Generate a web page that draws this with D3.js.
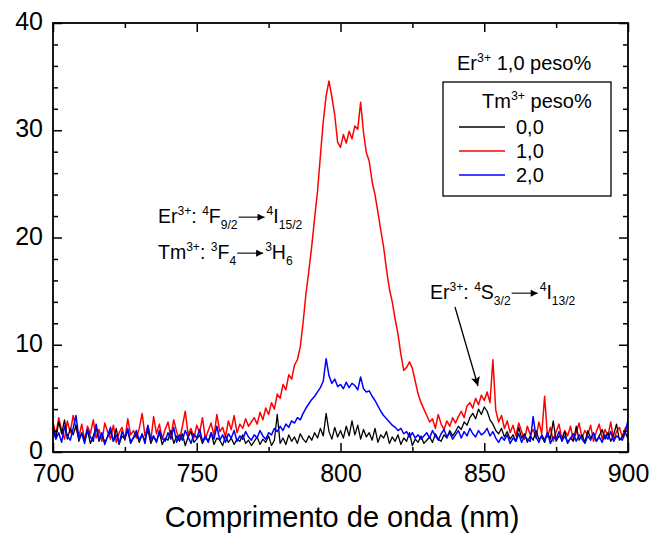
<!DOCTYPE html>
<html><head><meta charset="utf-8">
<script src="https://cdn.jsdelivr.net/npm/d3@7"></script>
<style>body{margin:0;background:#fff} text{font-family:"Liberation Sans",Arial,sans-serif;fill:#000}</style>
</head><body><svg id="c" width="655" height="535"></svg>
<script>
// wavelength grid (nm), sampled every 1 nm
const wavelength = d3.range(700, 901, 1);

// Er 1,0 / Tm 1,0 (red)
const red = [
2.8,1.6,3.2,2.0,1.2,2.9,1.8,3.4,2.2,1.4,
2.6,1.1,2.4,1.7,3.0,1.3,2.1,1.0,2.7,1.9,
1.2,2.5,0.9,1.8,2.3,1.1,3.1,1.6,2.0,1.3,
2.2,3.6,1.5,2.4,1.0,3.3,1.7,2.6,1.2,2.1,
2.8,1.4,3.0,1.9,1.1,2.4,3.8,1.6,2.2,1.3,
2.5,1.8,3.2,1.2,2.0,2.7,1.5,3.5,1.9,2.3,
1.4,2.9,2.1,3.4,1.8,2.6,2.2,3.1,2.4,2.8,
3.2,2.6,3.7,3.0,4.1,3.5,4.6,4.0,5.4,5.0,
6.3,5.8,7.2,6.8,8.1,8.6,9.8,12.1,14.8,16.9,
19.2,21.8,24.3,27.6,30.8,33.2,34.6,33.1,31.4,28.9,
28.4,29.6,28.8,29.9,29.2,30.4,30.1,32.6,29.8,27.9,
27.1,25.2,24.0,22.4,20.7,19.1,17.0,15.2,14.0,12.4,
11.0,9.1,7.6,7.9,8.4,7.8,6.6,5.4,4.6,4.0,
3.4,2.8,3.1,2.2,3.5,2.6,2.1,2.9,2.4,3.2,
2.7,3.3,3.8,3.2,4.3,4.6,4.1,5.0,4.4,5.3,
4.8,5.6,4.6,8.6,3.9,2.8,3.4,2.2,2.9,1.8,
2.5,1.5,2.7,1.9,1.2,2.4,1.6,2.1,1.3,2.8,
1.7,5.2,1.4,2.3,1.0,1.9,2.6,1.2,2.0,1.5,
2.4,1.1,1.8,2.7,1.3,2.0,1.6,2.5,1.0,1.9,
2.6,1.2,2.1,1.5,2.8,1.1,1.9,2.3,1.4,2.2,
2.6];

// Tm 0,0 (black)
const black = [
2.4,1.3,2.8,1.7,3.0,1.2,2.2,1.6,2.5,1.0,
1.8,1.1,2.0,0.8,1.5,2.3,1.0,1.7,0.9,1.4,
1.9,1.0,2.2,0.7,1.5,1.2,2.0,0.8,1.3,1.7,
0.9,1.6,1.1,2.1,0.8,1.4,1.0,1.8,0.7,1.3,
1.1,2.0,0.8,1.5,1.0,1.7,0.6,1.4,1.9,0.9,
1.2,1.6,0.8,1.4,1.0,1.8,0.7,1.3,1.1,0.6,
1.5,0.9,1.3,0.7,1.2,1.0,1.6,0.8,1.1,0.6,
1.0,1.4,0.7,1.2,0.9,1.5,0.6,1.1,3.5,0.8,
1.3,0.7,1.6,1.0,1.4,0.8,1.7,1.2,0.9,1.5,
1.1,1.8,1.3,2.2,1.5,3.6,1.9,1.2,2.3,1.4,
2.0,1.3,2.4,1.5,2.9,1.6,2.5,1.2,2.1,1.4,
1.8,1.1,2.2,0.9,1.6,1.3,1.9,0.8,1.4,1.0,
1.6,0.7,1.3,1.0,1.8,0.6,1.2,0.9,1.5,0.8,
1.1,1.4,0.9,1.7,1.2,1.0,1.6,1.3,2.0,1.5,
1.9,2.4,2.1,2.8,2.5,3.2,3.6,3.1,4.0,3.5,
4.2,3.8,3.0,2.6,2.0,1.7,2.2,1.4,1.9,1.2,
1.6,1.0,2.3,1.3,1.7,0.9,1.5,1.1,2.0,1.2,
1.4,0.9,1.8,1.2,2.9,1.0,1.5,1.2,1.9,0.8,
1.3,1.0,2.4,1.1,1.6,0.9,2.0,1.3,1.7,1.0,
1.5,2.1,1.2,1.8,1.0,1.6,2.6,1.1,1.4,1.9,
1.2];

// Tm 2,0 (blue)
const blue = [
2.0,1.2,1.8,0.9,2.4,1.5,1.1,2.2,3.4,1.3,
1.7,0.8,2.1,1.4,1.0,2.6,1.2,1.8,0.7,1.5,
2.3,1.0,1.6,0.8,1.9,1.3,2.2,0.9,1.4,2.0,
1.1,1.7,0.8,2.5,1.2,1.5,0.9,2.0,1.3,1.0,
1.8,1.2,2.3,0.9,1.6,1.1,2.0,1.4,0.8,1.7,
1.3,2.1,1.0,1.5,0.9,1.8,1.2,2.4,1.1,1.6,
0.9,1.7,1.3,2.0,1.0,1.5,1.2,1.9,1.4,1.1,
1.6,1.3,2.0,1.5,1.2,1.8,1.6,2.2,1.9,2.4,
2.0,2.6,2.3,2.9,2.7,3.2,3.0,3.6,4.1,4.5,
4.9,5.2,5.6,6.0,6.6,8.7,7.1,6.4,6.8,6.1,
6.3,5.9,6.5,6.0,6.4,6.2,5.8,7.0,5.9,5.6,
5.7,5.2,4.8,4.3,3.8,3.4,3.1,2.8,2.5,2.3,
2.0,2.2,1.7,1.9,1.4,1.8,1.3,1.6,1.2,1.5,
1.8,1.3,2.0,1.5,1.1,1.7,2.1,1.4,1.8,1.2,
1.6,2.0,1.3,1.9,1.5,2.2,1.7,1.4,2.0,1.6,
1.8,2.2,1.5,1.9,1.3,0.9,1.4,1.1,1.6,0.8,
1.3,1.0,1.7,0.9,1.5,1.2,1.0,3.3,1.4,0.9,
1.6,1.1,1.8,0.8,1.4,1.2,1.9,1.0,1.5,0.9,
1.3,1.7,1.0,1.6,1.2,0.8,1.5,1.1,1.8,1.0,
1.4,0.9,1.6,1.2,1.9,1.0,1.5,1.3,1.1,1.7,
3.0];

const xTicks = [700, 750, 800, 850, 900];
const xMinor = [725, 775, 825, 875];
const yTicks = [0, 10, 20, 30, 40];
const yMinor = [2,4,6,8,12,14,16,18,22,24,26,28,32,34,36,38];
const legendNames = ["0,0", "1,0", "2,0"];
const legendColors = ["#000000", "#ff0000", "#0000ff"];

const W = 655, H = 535;
const m = {l: 53, r: 27, t: 23, b: 83};
const svg = d3.select("#c");
const x = d3.scaleLinear().domain([700, 900]).range([m.l, W - m.r]);
const y = d3.scaleLinear().domain([0, 40]).range([H - m.b, m.t]);

const defs = svg.append("defs");
defs.append("clipPath").attr("id","clip")
  .append("rect").attr("x", m.l).attr("y", m.t).attr("width", W-m.l-m.r).attr("height", H-m.t-m.b);
defs.append("marker").attr("id","ah").attr("viewBox","0 0 10 10").attr("refX",10).attr("refY",5)
  .attr("markerWidth",9).attr("markerHeight",7).attr("markerUnits","userSpaceOnUse").attr("orient","auto")
  .append("path").attr("d","M0,0L10,5L0,10Z").attr("fill","#000");
defs.append("marker").attr("id","ah2").attr("viewBox","0 0 10 10").attr("refX",10).attr("refY",5)
  .attr("markerWidth",12).attr("markerHeight",9).attr("markerUnits","userSpaceOnUse").attr("orient","auto")
  .append("path").attr("d","M0,0L10,5L0,10L2,5Z").attr("fill","#000");

const line = d3.line().x((d,i) => x(wavelength[i])).y(d => y(d));
const plot = svg.append("g").attr("clip-path","url(#clip)");
[[red,"#ff0000",1.5],[black,"#000000",1.3],[blue,"#0000ff",1.5]].forEach(([data,c,w]) => {
  plot.append("path").datum(data).attr("d", line).attr("fill","none").attr("stroke",c).attr("stroke-width",w)
    .attr("stroke-linejoin","round");
});

// axes
function styleAxis(g, fs) {
  g.select(".domain").remove();
  g.selectAll("line").attr("stroke","#000").attr("stroke-width",1.5);
  g.selectAll("text").attr("font-size", fs).attr("font-family","Liberation Sans, Arial, sans-serif").attr("fill","#000");
}
const gx = svg.append("g").attr("transform",`translate(0,${H-m.b})`)
  .call(d3.axisBottom(x).tickValues(xTicks).tickSize(-9).tickPadding(12).tickFormat(d3.format("d")));
styleAxis(gx, 25);
svg.append("g").attr("transform",`translate(0,${H-m.b})`)
  .call(d3.axisBottom(x).tickValues(xMinor).tickSize(-5).tickFormat("")).call(g => styleAxis(g, 0));
const gy = svg.append("g").attr("transform",`translate(${m.l},0)`)
  .call(d3.axisLeft(y).tickValues(yTicks).tickSize(-9).tickPadding(10).tickFormat(d3.format("d")));
styleAxis(gy, 25);
gy.selectAll("text").attr("dy", "0.26em");
svg.append("g").attr("transform",`translate(${m.l},0)`)
  .call(d3.axisLeft(y).tickValues(yMinor).tickSize(-5).tickFormat("")).call(g => styleAxis(g, 0));
// mirrored ticks
svg.append("g").attr("transform",`translate(${W-m.r},0)`)
  .call(d3.axisRight(y).tickValues(yTicks).tickSize(-9).tickFormat("")).call(g => styleAxis(g, 0));
svg.append("g").attr("transform",`translate(${W-m.r},0)`)
  .call(d3.axisRight(y).tickValues(yMinor).tickSize(-5).tickFormat("")).call(g => styleAxis(g, 0));
svg.append("g").attr("transform",`translate(0,${m.t})`)
  .call(d3.axisTop(x).tickValues(xTicks).tickSize(-9).tickFormat("")).call(g => styleAxis(g, 0));
svg.append("g").attr("transform",`translate(0,${m.t})`)
  .call(d3.axisTop(x).tickValues(xMinor).tickSize(-5).tickFormat("")).call(g => styleAxis(g, 0));

// frame
svg.append("rect").attr("x", m.l).attr("y", m.t).attr("width", W-m.l-m.r).attr("height", H-m.t-m.b)
  .attr("fill","none").attr("stroke","#000").attr("stroke-width",1.8);

// axis title
svg.append("text").attr("x", 342).attr("y", 527).attr("text-anchor","middle")
  .attr("font-size", 29).text("Comprimento de onda (nm)");

// rich text helper
function rich(x0, y0, parts, fs) {
  const t = svg.append("text").attr("x", x0).attr("y", y0).attr("font-size", fs);
  parts.forEach(([s, k]) => {
    const ts = t.append("tspan").text(s);
    if (k === "sup") ts.attr("font-size", fs*0.62).attr("y", y0 - fs*0.42);
    else if (k === "sub") ts.attr("font-size", fs*0.62).attr("y", y0 + fs*0.3);
    else ts.attr("y", y0);
  });
  return x0 + t.node().getComputedTextLength();
}
function transition(x0, y0, left, right, fs) {
  const e = rich(x0, y0, left, fs);
  const a0 = e + 1, a1 = a0 + 26;
  svg.append("line").attr("x1", a0).attr("y1", y0 - fs*0.3).attr("x2", a1).attr("y2", y0 - fs*0.3)
    .attr("stroke","#000").attr("stroke-width",1.1).attr("marker-end","url(#ah)");
  rich(a1 + 2, y0, right, fs);
}
const fsA = 19.5;
transition(158, 223, [["Er"],["3+","sup"],[": "],["4","sup"],["F"],["9/2","sub"]], [["4","sup"],["I"],["15/2","sub"]], fsA);
transition(158, 259, [["Tm"],["3+","sup"],[": "],["3","sup"],["F"],["4","sub"]], [["3","sup"],["H"],["6","sub"]], fsA);
transition(430, 299, [["Er"],["3+","sup"],[": "],["4","sup"],["S"],["3/2","sub"]], [["4","sup"],["I"],["13/2","sub"]], fsA);

// pointer arrow
svg.append("line").attr("x1", 455).attr("y1", 307).attr("x2", 478).attr("y2", 386)
  .attr("stroke","#000").attr("stroke-width",1.3).attr("marker-end","url(#ah2)");

// legend
rich(457, 70, [["Er"],["3+","sup"],[" 1,0 peso%"]], 20);
svg.append("rect").attr("x", 443).attr("y", 82).attr("width", 168).attr("height", 114)
  .attr("fill","none").attr("stroke","#000").attr("stroke-width",1.3);
rich(482, 108, [["Tm"],["3+","sup"],[" peso%"]], 20);
const ly = [127, 151, 175];
legendNames.forEach((n, i) => {
  svg.append("line").attr("x1", 459).attr("x2", 505).attr("y1", ly[i]).attr("y2", ly[i])
    .attr("stroke", legendColors[i]).attr("stroke-width", 1.3);
  svg.append("text").attr("x", 516).attr("y", ly[i] + 7).attr("font-size", 20).text(n);
});
</script></body></html>
